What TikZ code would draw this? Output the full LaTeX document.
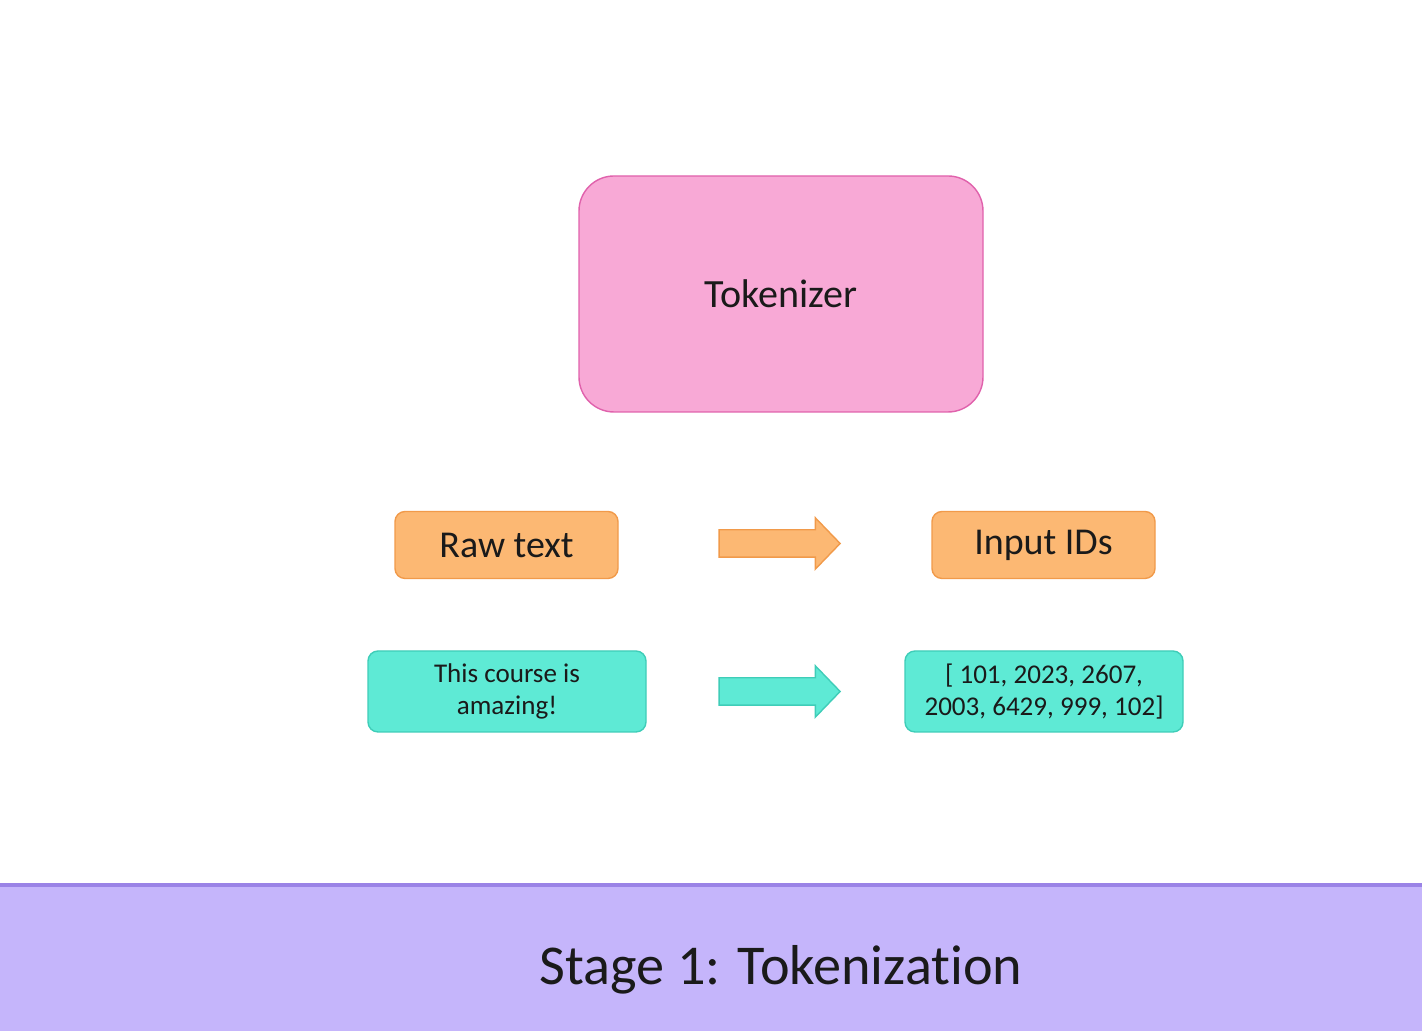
\documentclass[tikz,border=0pt]{standalone}
\usepackage{fontspec}
\setmainfont{Carlito}[Ligatures=NoCommon]
\usetikzlibrary{shapes.arrows}
\definecolor{pinkfill}{HTML}{F8A9D6}
\definecolor{pinkline}{HTML}{E062AC}
\definecolor{orangefill}{HTML}{FCB873}
\definecolor{orangeline}{HTML}{F19A4A}
\definecolor{tealfill}{HTML}{5EEAD5}
\definecolor{tealline}{HTML}{3FCDB8}
\definecolor{bandfill}{HTML}{C5B5FB}
\definecolor{bandline}{HTML}{9A83E6}
\definecolor{inktext}{HTML}{1A1A1A}
\begin{document}
\begin{tikzpicture}[
    stagebox/.style={draw=pinkline, fill=pinkfill, rounded corners=0.35cm, minimum width=4.04cm, minimum height=2.36cm, font=\fontsize{11.4}{14}\selectfont, text=inktext},
    headbox/.style={draw=orangeline, fill=orangefill, rounded corners=0.1cm, minimum width=2.23cm, minimum height=0.67cm, font=\fontsize{10.8}{13}\selectfont, text=inktext},
    databox/.style={draw=tealline, fill=tealfill, rounded corners=0.1cm, minimum width=2.78cm, minimum height=0.81cm, inner sep=0pt, align=center, font=\fontsize{7.7}{9.3}\selectfont, text=inktext},
    flow/.style={single arrow, draw=#1line, fill=#1fill, inner sep=0.13cm, minimum height=1.21cm, single arrow head extend=0.12cm, single arrow tip angle=92}]
    \useasboundingbox (0,0) rectangle (14.22,10.31);

    % Tokenizer block
    \node[stagebox] (tokenizer) at (7.81,7.37) {Tokenizer};

    % Headings
    \node[headbox] (raw) at (5.065,4.86) {Raw text};
    \node[headbox] (ids) at (10.435,4.86) {Input IDs};
    \node[flow=orange] (headarrow) at (7.73,4.875) {};

    % Example
    \node[databox] (sentence) at (5.07,3.395) {This course is\\amazing!};
    \node[databox] (tokens) at (10.44,3.395) {[ 101, 2023, 2607,\\2003, 6429, 999, 102]};
    \node[flow=teal] (dataarrow) at (7.73,3.395) {};

    % Caption band
    \fill[bandfill] (0,0) rectangle (14.22,1.46);
    \draw[bandline, line width=1.2pt] (0,1.46) -- (14.22,1.46);
    \node[anchor=base, font=\fontsize{16}{19}\selectfont, text=inktext] (caption) at (7.81,0.46) {Stage 1: Tokenization};
\end{tikzpicture}
\end{document}
